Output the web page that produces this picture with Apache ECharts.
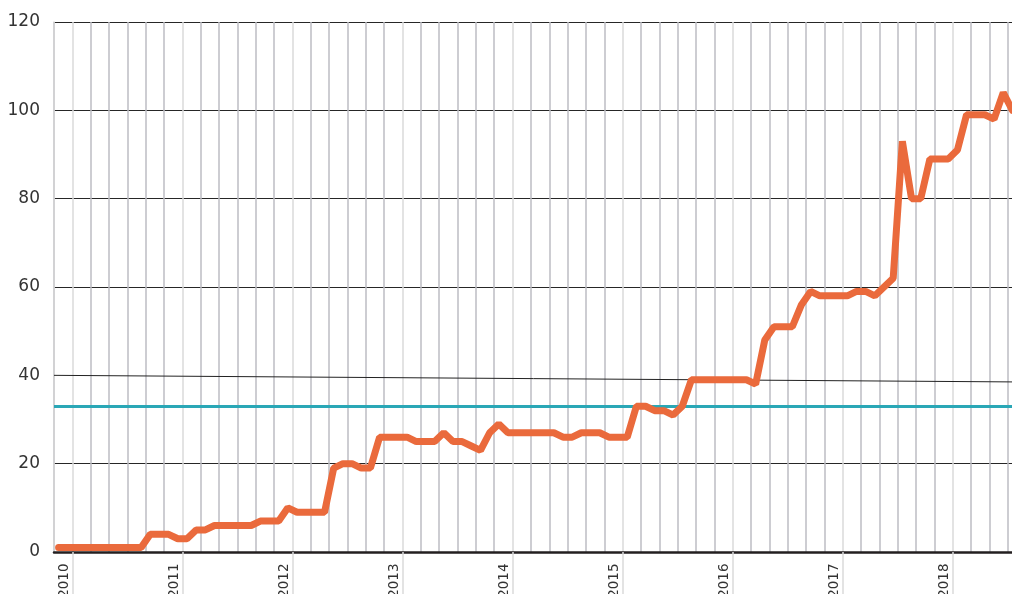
<!DOCTYPE html>
<html>
<head>
<meta charset="utf-8">
<script src="https://cdn.jsdelivr.net/npm/echarts@6/dist/echarts.min.js"></script>
<style>
  html, body { margin: 0; padding: 0; background: #fff; }
  #chart { width: 1012px; height: 594px; }
</style>
</head>
<body>
<div id="chart"></div>
<script>
// data, one value per month, Jan 2010 .. Sep 2018
var years = ['2010', '2011', '2012', '2013', '2014', '2015', '2016', '2017', '2018'];
var monthValues = [
  1, 1, 1, 1, 1, 1, 1, 1, 1, 1, 4, 4,        // 2010
  4, 3, 3, 5, 5, 6, 6, 6, 6, 6, 7, 7,        // 2011
  7, 10, 9, 9, 9, 9, 19, 20, 20, 19, 19, 26, // 2012
  26, 26, 26, 25, 25, 25, 27, 25, 25, 24, 23, 27, // 2013
  29, 27, 27, 27, 27, 27, 27, 26, 26, 27, 27, 27, // 2014
  26, 26, 26, 33, 33, 32, 32, 31, 33, 39, 39, 39, // 2015
  39, 39, 39, 39, 38, 48, 51, 51, 51, 56, 59, 58, // 2016
  58, 58, 58, 59, 59, 58, 60, 62, 93, 80, 80, 89, // 2017
  89, 89, 91, 99, 99, 99, 98, 104, 100            // 2018
];
var yTicks = [0, 20, 40, 60, 80, 100, 120];
var averageValue = 33;
var trendLine = [[0, 40], [1, 38.5]]; // thin sloping line, start and end of the axis

// month categories built from the year list
var months = [];
for (var y = 0; y < years.length; y++) {
  for (var m = 1; m <= 12; m++) {
    if (months.length < monthValues.length) {
      months.push(years[y] + '-' + (m < 10 ? '0' + m : m));
    }
  }
}

var myChart = echarts.init(document.getElementById('chart'), null, { renderer: 'canvas' });

var darkV = '#bcbcc3';
var lightV = '#dadada';
var hLine = '#262626';
var font = 'DejaVu Sans';

var option = {
  animation: false,
  grid: {
    left: 54,
    right: -5,
    top: 22,
    bottom: 42,
    containLabel: false,
    outerBoundsMode: 'none' // labels may run off the bottom edge, as in the picture
  },
  xAxis: [{
    type: 'category',
    data: months,
    boundaryGap: true,
    axisLine: {
      show: true,
      onZero: false,
      lineStyle: { color: '#231f20', width: 2.5 }
    },
    axisTick: {
      show: true,
      length: 45,
      interval: function (i) { return i % 12 === 2; },
      lineStyle: { color: lightV, width: 1.5 }
    },
    axisLabel: {
      interval: function (i) { return i % 12 === 0; },
      rotate: 90,
      margin: 11.5,
      verticalAlign: 'top',
      lineHeight: 11,
      color: '#333',
      fontFamily: font,
      fontSize: 13.5,
      formatter: function (v) { return v.slice(0, 4); }
    },
    splitLine: { show: false }
  }, {
    // helper axis for the sloping line
    type: 'value',
    min: 0,
    max: 1,
    show: false
  }, {
    // helper axis for the two-month vertical grid
    type: 'value',
    min: 0,
    max: monthValues.length,
    interval: 2,
    axisLine: { show: false },
    axisTick: { show: false },
    axisLabel: { show: false },
    splitLine: {
      show: true,
      lineStyle: {
        color: [darkV, lightV, darkV, darkV, darkV, darkV],
        width: 1.5
      }
    }
  }],
  yAxis: {
    type: 'value',
    min: yTicks[0],
    max: yTicks[yTicks.length - 1],
    interval: 20,
    axisLine: { show: true, lineStyle: { color: '#d4d4d4', width: 1.5 } },
    axisTick: { show: false },
    axisLabel: {
      margin: 14,
      color: '#333',
      fontFamily: font,
      fontSize: 17
    },
    splitLine: {
      show: true,
      lineStyle: {
        color: [hLine, hLine, 'transparent', hLine, hLine, hLine, hLine],
        width: 1.2
      }
    }
  },
  series: [{
    type: 'line',
    xAxisIndex: 1,
    data: trendLine,
    symbol: 'none',
    z: 3,
    lineStyle: { color: '#222', width: 1 },
    markLine: {
      silent: true,
      symbol: 'none',
      label: { show: false },
      lineStyle: { color: '#2aa7b6', width: 3, type: 'solid' },
      data: [{ yAxis: averageValue }]
    }
  }, {
    type: 'line',
    data: monthValues,
    symbol: 'none',
    z: 5,
    lineStyle: { color: '#ea6a3c', width: 7, cap: 'round' }
  }]
};
myChart.setOption(option);
</script>
</body>
</html>
